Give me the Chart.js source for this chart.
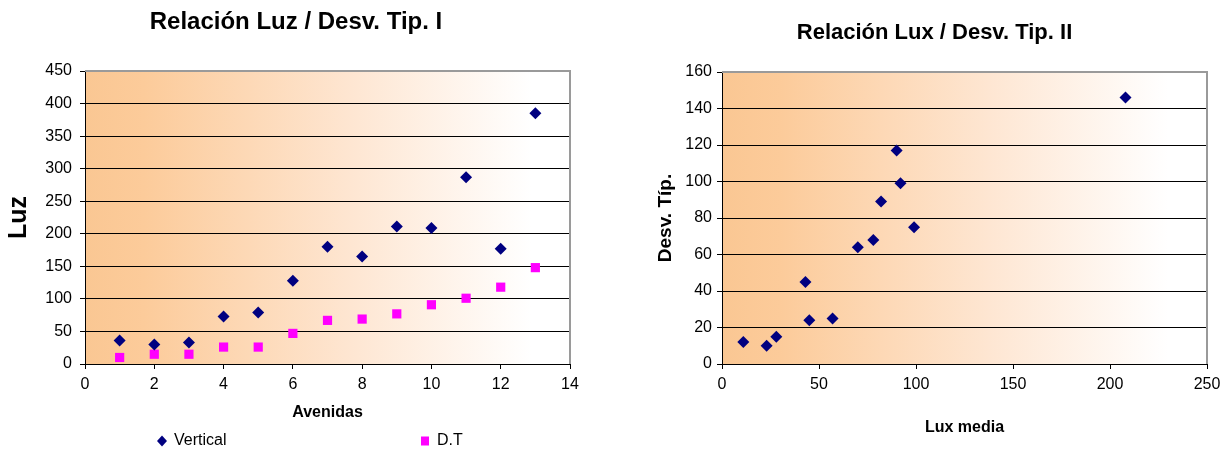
<!DOCTYPE html>
<html>
<head>
<meta charset="utf-8">
<script src="https://cdn.jsdelivr.net/npm/chart.js@4.4.0/dist/chart.umd.min.js"></script>
<style>
  body { margin: 0; background: #fff; width: 1229px; height: 452px; overflow: hidden; position: relative; }
  canvas { position: absolute; top: 0; }
  #luzChart { left: 0; }
  #luxChart { left: 614px; }
</style>
</head>
<body>
<canvas id="luzChart" width="614" height="452"></canvas>
<canvas id="luxChart" width="615" height="452"></canvas>
<script>
// chart I: light per avenue
const avenidas = [1, 2, 3, 4, 5, 6, 7, 8, 9, 10, 11, 12, 13];
const vertical = [36, 30, 33, 73, 79, 128, 180, 165, 211, 209, 287, 177, 385];
const desvTip = [10, 15, 15, 26, 26, 47, 67, 69, 77, 91, 101, 118, 148];

// chart II: mean lux vs std deviation
const luxMedia = [11, 23, 28, 43, 45, 57, 70, 78, 82, 90, 92, 99, 208];
const desvTipII = [12, 10, 15, 45, 24, 25, 64, 68, 89, 117, 99, 75, 146];

Chart.defaults.font.family = "'Liberation Sans', Arial, sans-serif";
Chart.defaults.color = '#000';

const tickFont = { size: 16 };

// peach gradient behind the plot + grey frame on top/right
const peachBackground = {
  id: 'peachBackground',
  beforeDraw(chart) {
    const { ctx, chartArea: a } = chart;
    const g = ctx.createLinearGradient(a.left, 0, a.right, 0);
    g.addColorStop(0, '#FAC793');
    g.addColorStop(0.12, '#FCCB9A');
    g.addColorStop(0.55, '#FEE6D2');
    g.addColorStop(0.92, '#FFFFFF');
    ctx.save();
    ctx.fillStyle = g;
    ctx.fillRect(a.left, a.top, a.width, a.height);
    ctx.restore();
  },
  beforeDatasetsDraw(chart) {
    const { ctx, chartArea: a } = chart;
    ctx.save();
    ctx.strokeStyle = '#9a9a9a';
    ctx.lineWidth = 2;
    ctx.beginPath();
    ctx.moveTo(a.left, a.top);
    ctx.lineTo(a.right, a.top);
    ctx.lineTo(a.right, a.bottom);
    ctx.stroke();
    ctx.restore();
  }
};

// spread-out legend like the original sheet
const wideLegend = {
  id: 'wideLegend',
  afterDraw(chart, args, opts) {
    const ctx = chart.ctx;
    ctx.save();
    ctx.font = "16px 'Liberation Sans', Arial, sans-serif";
    ctx.textBaseline = 'middle';
    chart.data.datasets.forEach((ds, i) => {
      const x = opts.x[i], y = opts.y;
      ctx.fillStyle = ds.backgroundColor;
      ctx.beginPath();
      if (ds.pointStyle === 'rectRot') {
        ctx.moveTo(x, y - 5.5);
        ctx.lineTo(x + 5, y);
        ctx.lineTo(x, y + 5.5);
        ctx.lineTo(x - 5, y);
        ctx.closePath();
      } else {
        ctx.rect(x - 4, y - 4.5, 8, 9);
      }
      ctx.fill();
      ctx.fillStyle = '#000';
      ctx.fillText(ds.label, x + 12, y);
    });
    ctx.restore();
  }
};

function toPoints(xs, ys) {
  return xs.map((x, i) => ({ x: x, y: ys[i] }));
}

new Chart(document.getElementById('luzChart'), {
  type: 'scatter',
  data: {
    datasets: [{
      label: 'Vertical',
      data: toPoints(avenidas, vertical),
      pointStyle: 'rectRot',
      pointRadius: 6,
      backgroundColor: '#000080',
      borderColor: '#000080',
      borderWidth: 0
    }, {
      label: 'D.T',
      data: toPoints(avenidas, desvTip),
      pointStyle: 'rect',
      pointRadius: 6.5,
      backgroundColor: '#FF00FF',
      borderColor: '#FF00FF',
      borderWidth: 0
    }]
  },
  options: {
    responsive: false,
    animation: false,
    devicePixelRatio: 1,
    layout: { padding: { left: 22, right: 44, top: 0, bottom: 0 } },
    plugins: {
      legend: { display: false },
      tooltip: { enabled: false },
      title: {
        display: true,
        text: 'Relación Luz / Desv. Tip. I',
        color: '#000',
        font: { size: 24, weight: 'bold' },
        padding: { top: 8, bottom: 34.2 }
      },
      wideLegend: { x: [162, 425], y: 441 }
    },
    scales: {
      x: {
        type: 'linear',
        min: 0,
        max: 14,
        ticks: { stepSize: 2, padding: 6, font: tickFont, color: '#000' },
        grid: { drawOnChartArea: false, tickLength: 5, color: '#000' },
        border: { color: '#000', width: 1 },
        title: { display: true, text: 'Avenidas', color: '#000', font: { size: 16, weight: 'bold' }, padding: { top: 0, bottom: 30 } },
        afterFit(s) { s.height = 88; }
      },
      y: {
        min: 0,
        max: 450,
        ticks: { stepSize: 50, padding: 8, font: tickFont, color: '#000' },
        grid: { color: '#000', tickLength: 5 },
        border: { color: '#000', width: 1 },
        title: { display: true, text: 'Luz', color: '#000', font: { size: 25, weight: 'bold' }, padding: { top: -18, bottom: 0 } },
        afterFit(s) { s.width = 63; }
      }
    }
  },
  plugins: [peachBackground, wideLegend]
});

new Chart(document.getElementById('luxChart'), {
  type: 'scatter',
  data: {
    datasets: [{
      label: 'Desv. Típ.',
      data: toPoints(luxMedia, desvTipII),
      pointStyle: 'rectRot',
      pointRadius: 6,
      backgroundColor: '#000080',
      borderColor: '#000080',
      borderWidth: 0
    }]
  },
  options: {
    responsive: false,
    animation: false,
    devicePixelRatio: 1,
    layout: { padding: { left: 48, right: 22, top: 0, bottom: 0 } },
    plugins: {
      legend: { display: false },
      tooltip: { enabled: false },
      title: {
        display: true,
        text: 'Relación Lux / Desv. Tip. II',
        color: '#000',
        font: { size: 22, weight: 'bold' },
        padding: { top: 20, bottom: 25.6 }
      }
    },
    scales: {
      x: {
        type: 'linear',
        min: 0,
        max: 250,
        ticks: { stepSize: 50, padding: 6, font: tickFont, color: '#000' },
        grid: { drawOnChartArea: false, tickLength: 5, color: '#000' },
        border: { color: '#000', width: 1 },
        title: { display: true, text: 'Lux media', color: '#000', font: { size: 16, weight: 'bold' }, padding: { top: 0, bottom: 14.4 } },
        afterFit(s) { s.height = 88; }
      },
      y: {
        min: 0,
        max: 160,
        ticks: { stepSize: 20, padding: 5, font: tickFont, color: '#000' },
        grid: { color: '#000', tickLength: 5 },
        border: { color: '#000', width: 1 },
        title: { display: true, text: 'Desv. Típ.', color: '#000', font: { size: 19, weight: 'bold' }, padding: { top: -7.4, bottom: 0 } },
        afterFit(s) { s.width = 60; }
      }
    }
  },
  plugins: [peachBackground]
});
</script>
</body>
</html>
